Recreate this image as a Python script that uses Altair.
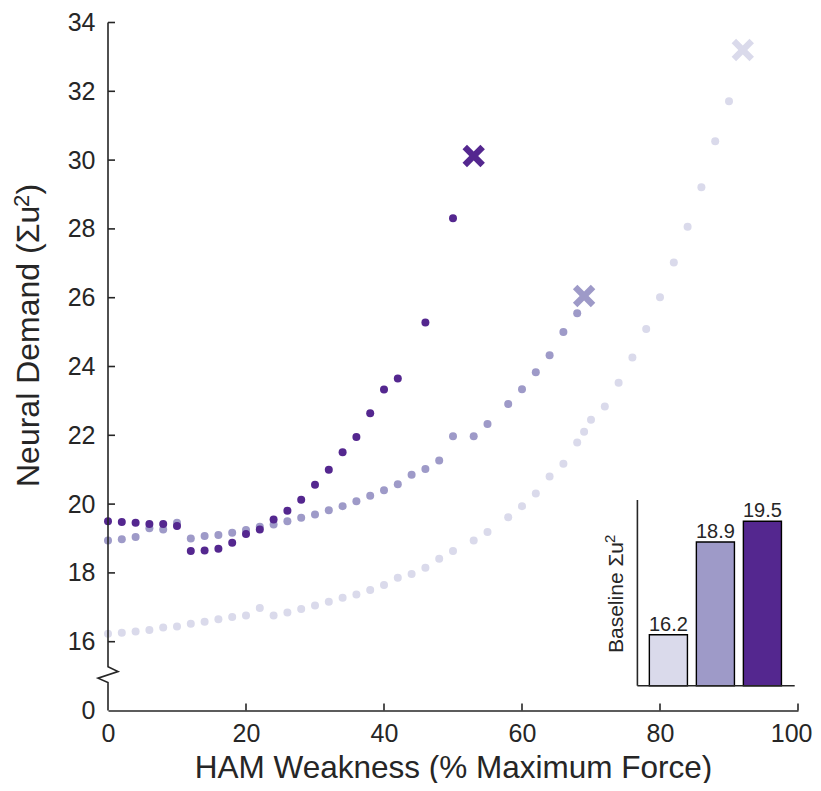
import altair as alt
import pandas as pd

# ---------------- data ----------------
series_names = ["light", "medium", "dark"]
series_colors = ["#dadaeb", "#9e9ac8", "#54278f"]

light_x = [0, 2, 4, 6, 8, 10, 12, 14, 16, 18, 20, 22, 24, 26, 28, 30, 32, 34, 36, 38, 40,
           42, 44, 46, 48, 50, 53, 55, 58, 60, 62, 64, 66, 68, 69, 70, 72, 74, 76, 78, 80,
           82, 84, 86, 88, 90]
light_y = [16.23, 16.26, 16.30, 16.34, 16.41, 16.44, 16.52, 16.58, 16.65, 16.72, 16.76,
           16.98, 16.76, 16.85, 16.95, 17.05, 17.16, 17.28, 17.37, 17.50, 17.65, 17.86,
           17.97, 18.15, 18.41, 18.64, 18.94, 19.19, 19.62, 19.94, 20.31, 20.80, 21.17,
           21.79, 22.10, 22.45, 22.84, 23.53, 24.26, 25.09, 26.01, 27.02, 28.06, 29.21,
           30.55, 31.71]

medium_x = [0, 2, 4, 6, 8, 10, 12, 14, 16, 18, 20, 22, 24, 26, 28, 30, 32, 34, 36, 38, 40,
            42, 44, 46, 48, 50, 53, 55, 58, 60, 62, 64, 66, 68]
medium_y = [18.94, 18.98, 19.04, 19.30, 19.26, 19.46, 19.00, 19.07, 19.10, 19.17, 19.25,
            19.34, 19.41, 19.50, 19.60, 19.70, 19.82, 19.94, 20.08, 20.24, 20.40, 20.58,
            20.85, 21.02, 21.27, 21.97, 21.97, 22.33, 22.91, 23.34, 23.83, 24.33, 25.00,
            25.55]

dark_x = [0, 2, 4, 6, 8, 10, 12, 14, 16, 18, 20, 22, 24, 26, 28, 30, 32, 34, 36, 38, 40,
          42, 46, 50]
dark_y = [19.50, 19.48, 19.46, 19.42, 19.42, 19.36, 18.64, 18.65, 18.70, 18.88, 19.13,
          19.26, 19.55, 19.81, 20.13, 20.56, 21.00, 21.51, 21.95, 22.64, 23.33, 23.65,
          25.28, 28.31]

fail_x = [92, 69, 53]
fail_y = [33.20, 26.05, 30.12]

baseline_labels = ["16.2", "18.9", "19.5"]
baseline_values = [16.2, 18.9, 19.5]

x_ticks = [0, 20, 40, 60, 80, 100]
y_ticks = [14, 16, 18, 20, 22, 24, 26, 28, 30, 32, 34]

# y-axis line with a break (x in data units, y in data units)
break_x = [0, 0, 1.45, -1.45, 0, 0]
break_y = [34, 15.27, 15.13, 14.94, 14.81, 14]

# ---------------- tables ----------------
pts = pd.concat([
    pd.DataFrame({"x": light_x, "y": light_y, "series": "light"}),
    pd.DataFrame({"x": medium_x, "y": medium_y, "series": "medium"}),
    pd.DataFrame({"x": dark_x, "y": dark_y, "series": "dark"}),
], ignore_index=True)
fails = pd.DataFrame({"x": fail_x, "y": fail_y, "series": series_names})
bars = pd.DataFrame({"series": series_names, "value": baseline_values, "label": baseline_labels})
brk = pd.DataFrame({"bx": break_x, "by": break_y, "ord": list(range(len(break_x)))})
yt = pd.DataFrame({"t": y_ticks[1:]})
xt = pd.DataFrame({"t": x_ticks[1:]})
one = pd.DataFrame({"d": [0]})

INK = "#262626"
FONT = "Liberation Sans"

xs = alt.Scale(domain=[0, 100], nice=False, zero=False)
ys = alt.Scale(domain=[14, 34], nice=False, zero=False)
cs = alt.Scale(domain=series_names, range=series_colors)

x_axis = alt.Axis(values=x_ticks, grid=False, ticks=False, tickSize=0, labelFlush=False,
                  labelOverlap=False, labelFontSize=25, labelColor=INK, labelFont=FONT,
                  labelBaseline="alphabetic", labelPadding=31,
                  labelAlign={"condition": {"test": "datum.value == 100", "value": "right"},
                              "value": "center"},
                  labelOffset={"condition": {"test": "datum.value == 100", "value": 14},
                               "value": 0},
                  domainColor=INK, domainWidth=1.6,
                  title="HAM Weakness (% Maximum Force)", titleFontSize=31.5,
                  titleFontWeight="normal", titleColor=INK, titleFont=FONT,
                  titleBaseline="alphabetic", titleY=66.5)
y_axis = alt.Axis(values=y_ticks, grid=False, ticks=False, tickSize=0, domain=False,
                  labelFlush=False, labelOverlap=False, labelFontSize=25, labelColor=INK,
                  labelFont=FONT, labelPadding=13,
                  labelExpr="datum.value == 14 ? '0' : datum.label", title=None)

points = alt.Chart(pts).mark_circle(size=64, opacity=1).encode(
    x=alt.X("x:Q", scale=xs, axis=x_axis),
    y=alt.Y("y:Q", scale=ys, axis=y_axis),
    color=alt.Color("series:N", scale=cs, legend=None),
)

XPATH = "M-1,-0.6L-0.6,-1L0,-0.4L0.6,-1L1,-0.6L0.4,0L1,0.6L0.6,1L0,0.4L-0.6,1L-1,0.6L-0.4,0Z"
fail_marks = alt.Chart(fails).mark_point(shape=XPATH, filled=True, size=500, opacity=1,
                                         strokeWidth=0).encode(
    x=alt.X("x:Q", scale=xs),
    y=alt.Y("y:Q", scale=ys),
    color=alt.Color("series:N", scale=cs, legend=None),
)

yline = alt.Chart(brk).mark_line(color=INK, strokeWidth=1.6, clip=False).encode(
    x=alt.X("bx:Q", scale=xs),
    y=alt.Y("by:Q", scale=ys),
    order="ord:Q",
)

ytick_marks = alt.Chart(yt).mark_rule(color=INK, strokeWidth=1.6).encode(
    y=alt.Y("t:Q", scale=ys), x=alt.value(0), x2=alt.value(7)
)
xtick_marks = alt.Chart(xt).mark_rule(color=INK, strokeWidth=1.6).encode(
    x=alt.X("t:Q", scale=xs), y=alt.value(688), y2=alt.value(681)
)

# y-axis title with a full-size superscript (rotated text pieces)
def rot_text(txt, size, px, py):
    return alt.Chart(one).mark_text(text=txt, angle=270, fontSize=size, font=FONT, color=INK,
                                    align="left", baseline="alphabetic").encode(
        x=alt.value(px), y=alt.value(py))

ytitle = alt.layer(
    rot_text("Neural Demand (Σu", 32, -69, 464.5),
    rot_text("2", 22, -79, 184.5),
    rot_text(")", 32, -69, 172),
)

main = alt.layer(points, fail_marks, yline, ytick_marks, xtick_marks, ytitle)

# ---------------- inset ----------------
bx = alt.Scale(domain=series_names, range=[529.6, 685.2], paddingInner=0.19, paddingOuter=0.25)
by = alt.Scale(domain=[14.72, 20.12], range=[663.2, 477.5], zero=False, nice=False)

inset_bars = alt.Chart(bars).mark_bar(stroke="black", strokeWidth=1.4, opacity=1).encode(
    x=alt.X("series:N", scale=bx, axis=None, sort=series_names),
    y=alt.Y("value:Q", scale=by, axis=None),
    y2=alt.datum(14.72),
    color=alt.Color("series:N", scale=cs, legend=None),
)
inset_text = alt.Chart(bars).mark_text(fontSize=20, font=FONT, color=INK, baseline="alphabetic",
                                       dy=-4).encode(
    x=alt.X("series:N", scale=bx, axis=None, sort=series_names),
    y=alt.Y("value:Q", scale=by, axis=None),
    text="label:N",
)
spine_left = alt.Chart(one).mark_rule(color=INK, strokeWidth=1.6).encode(
    x=alt.value(529.4), y=alt.value(477.5), y2=alt.value(663.2)
)
spine_bottom = alt.Chart(one).mark_rule(color=INK, strokeWidth=1.6).encode(
    x=alt.value(529.4), x2=alt.value(686.7), y=alt.value(663.2)
)
inset_title = alt.layer(
    rot_text("Baseline Σu", 21, 514.5, 630.5),
    rot_text("2", 15, 506.5, 520.5),
)

inset = alt.layer(inset_bars, inset_text, spine_left, spine_bottom, inset_title)

chart = alt.layer(main, inset).resolve_scale(x="independent", y="independent").properties(
    width=690, height=688,
    autosize=alt.AutoSizeParams(type="none"),
    padding={"left": 100, "top": 14.5, "right": 15, "bottom": 72.5},
).configure(font=FONT).configure_view(stroke=None)

chart.save("out.html", embed_options={"renderer": "svg", "actions": False})
